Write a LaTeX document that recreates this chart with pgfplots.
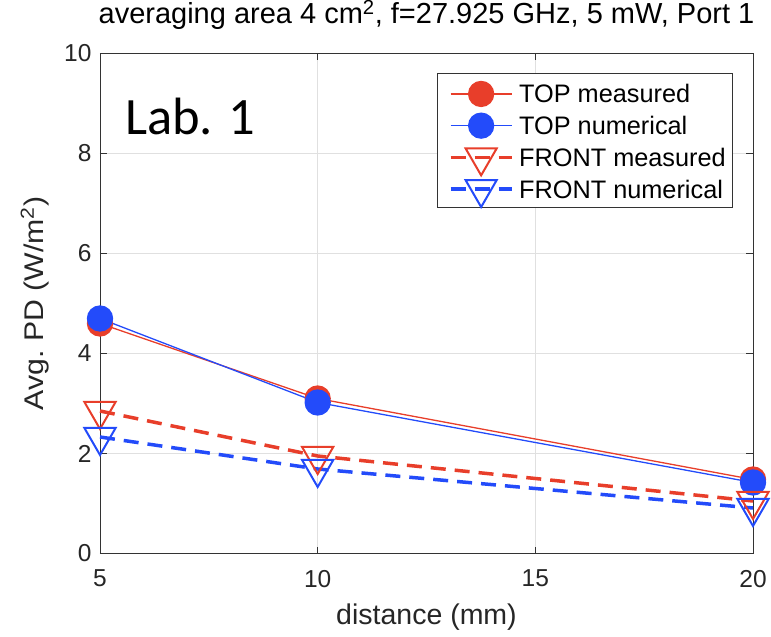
\documentclass[border=0pt]{standalone}
\usepackage{pgfplots}
\pgfplotsset{compat=1.18}
\usepackage{fontspec}
\setmainfont{Liberation Sans}
\newfontfamily\carlito{Carlito}
\definecolor{mred}{RGB}{232,62,42}
\definecolor{mblue}{RGB}{35,75,250}
\begin{document}
\begin{tikzpicture}
\path[use as bounding box] (-100pt,-83.5pt) rectangle (671pt,553.5pt);
\begin{axis}[
 at={(0,0)}, anchor=south west, scale only axis,
 width=653pt, height=500pt,
 xmin=5, xmax=20, ymin=0, ymax=10,
 xtick={5,10,15,20}, ytick={0,2,...,10},
 clip=false,
 grid=major, grid style={black!12, line width=0.8pt},
 axis line style={black!80, line width=0.9pt},
 tick style={black!80, line width=0.9pt},
 major tick length=7pt,
 tick label style={font=\fontsize{24.5}{28}\selectfont, text=black!85},
 /pgf/number format/assume math mode=true,
 xticklabel style={yshift=-13pt},
 yticklabel style={xshift=-5pt},
 xlabel={distance (mm)}, ylabel={\scalebox{1.12}[1]{Avg.\ PD (W/m\textsuperscript{2})}},
 label style={font=\fontsize{28.5}{30}\selectfont, text=black!85},
 xlabel style={at={(axis description cs:0.5,-0.141)}, anchor=base},
 ylabel style={at={(axis description cs:-0.1,0.5)}, anchor=center, font=\fontsize{27}{30}\selectfont},
 title={averaging area 4 cm\textsuperscript{2}, f=27.925 GHz, 5 mW, Port 1},
 title style={font=\fontsize{29}{30}\selectfont, at={(axis description cs:0.5,1.047)}, anchor=base},
 legend image code/.code={\path[draw=none,fill=none] (-8pt,-8pt) rectangle (67pt,15pt);
   \draw[overlay,mark repeat=2,mark phase=2,#1] plot coordinates {(0pt,0pt)(30.5pt,0pt)(61pt,0pt)};},
 legend style={at={(axis description cs:0.969,0.961)}, anchor=north east,
   draw=black!80, line width=0.9pt, fill=white, inner xsep=5pt, inner ysep=5.5pt,
   font=\fontsize{25.3}{28}\selectfont, row sep=4.2pt,
   nodes={inner sep=1.5pt, text height=20pt, text depth=2pt}},
 legend cell align=left,
]
\addplot[color=mred, line width=1.3pt, mark=*, mark size=12.5pt, mark options={fill=mred, draw=mred}]
 coordinates {(5,4.6)(10,3.1)(20,1.48)};
\addlegendentry{TOP measured}
\addplot[color=mblue, line width=1.3pt, mark=*, mark size=12.5pt, mark options={fill=mblue, draw=mblue}]
 coordinates {(5,4.7)(10,3.02)(20,1.42)};
\addlegendentry{TOP numerical}
\addplot[color=mred, line width=3.5pt, dash pattern=on 15pt off 9pt, mark=triangle, mark size=18pt, mark options={solid, rotate=180, line width=2pt}]
 coordinates {(5,2.85)(10,1.95)(20,1.05)};
\addlegendentry{FRONT measured}
\addplot[color=mblue, line width=3.5pt, dash pattern=on 15pt off 9pt, mark=triangle, mark size=18pt, mark options={solid, rotate=180, line width=2pt}]
 coordinates {(5,2.33)(10,1.69)(20,0.91)};
\addlegendentry{FRONT numerical}
\node[anchor=base west, font=\carlito\fontsize{52.5}{60}\selectfont, inner sep=0pt] at (axis cs:5.57,8.37) {Lab. 1};
\end{axis}
\end{tikzpicture}
\end{document}
